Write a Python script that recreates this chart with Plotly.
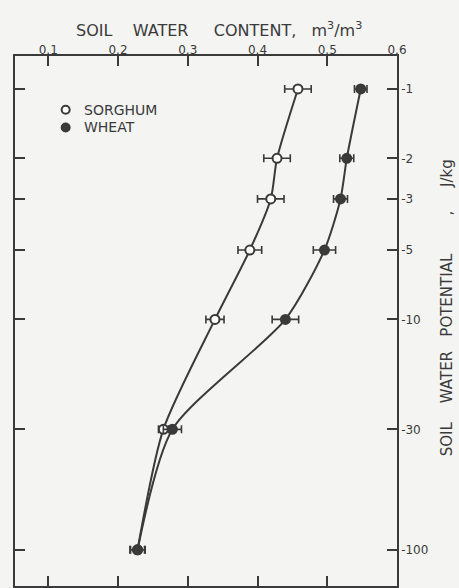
import plotly.graph_objects as go

# ---- data ----
potential = [-1, -2, -3, -5, -10, -30, -100]          # J/kg
sorghum = [0.458, 0.428, 0.419, 0.389, 0.339, 0.265, 0.228]
sorghum_err = [0.019, 0.019, 0.019, 0.017, 0.013, 0.007, 0.010]
wheat = [0.548, 0.528, 0.519, 0.496, 0.440, 0.278, 0.228]
wheat_err = [0.009, 0.010, 0.010, 0.016, 0.019, 0.013, 0.011]
x_ticks = [0.1, 0.2, 0.3, 0.4, 0.5, 0.6]
y_ticks = [-1, -2, -3, -5, -10, -30, -100]
legend_names = ["SORGHUM", "WHEAT"]

INK = "#3a3a3a"
BG = "#f4f4f2"
FONT = "DejaVu Sans"

mag = [-p for p in potential]
y_tick_mag = [-t for t in y_ticks]

fig = go.Figure()

def add_series(xs, errs, filled):
    fill = INK if filled else "white"
    fig.add_trace(go.Scatter(
        x=xs, y=mag, mode="lines+markers", showlegend=False,
        line=dict(color=INK, width=2, shape="spline", smoothing=0.7),
        marker=dict(symbol="circle", size=9, color=fill,
                    line=dict(color=INK, width=2)),
        error_x=dict(type="data", array=errs, visible=True,
                     color=INK, thickness=1.6, width=4),
    ))

add_series(sorghum, sorghum_err, False)
add_series(wheat, wheat_err, True)

fig.update_xaxes(
    side="top", range=[0.0523, 0.6], tickvals=x_ticks,
    ticktext=[f"{t:.1f}" for t in x_ticks],
    ticks="inside", ticklen=10, tickwidth=1.5, tickcolor=INK,
    showline=True, linecolor=INK, linewidth=1.5, mirror="ticks",
    showgrid=False, zeroline=False, ticklabelstandoff=-5,
    tickfont=dict(family=FONT, size=12, color=INK),
)
fig.update_yaxes(
    type="log", side="right", range=[2.157, -0.143],
    tickvals=y_tick_mag, ticktext=[str(t) for t in y_ticks],
    ticks="inside", ticklen=10, tickwidth=1.5, tickcolor=INK,
    showline=True, linecolor=INK, linewidth=1.5, mirror="ticks",
    showgrid=False, zeroline=False,
    tickfont=dict(family=FONT, size=12, color=INK),
)

nb = "\u00a0"
fig.add_annotation(
    text=f"SOIL{nb*4}WATER{nb*5}CONTENT,{nb*3}m<sup>3</sup>/m<sup>3</sup>",
    xref="paper", yref="paper", x=0.534, y=1.05,
    xanchor="center", yanchor="middle", showarrow=False,
    font=dict(family=FONT, size=16, color=INK),
)
fig.add_annotation(
    text=f"SOIL{nb*4}WATER{nb*3}POTENTIAL{nb*8},{nb*5}J/kg",
    xref="paper", yref="paper", x=1.131, y=0.524,
    xanchor="center", yanchor="middle", textangle=-90, showarrow=False,
    font=dict(family=FONT, size=15, color=INK),
)

# legend (symbol + label), placed in paper coordinates
leg_y = [0.8985, 0.8652]
for name, yy, filled in zip(legend_names, leg_y, [False, True]):
    fig.add_shape(type="circle", xref="paper", yref="paper",
                  xsizemode="pixel", ysizemode="pixel",
                  xanchor=0.1326, yanchor=yy, x0=-4, x1=4, y0=-4, y1=4,
                  line=dict(color=INK, width=2),
                  fillcolor=INK if filled else "white")
    fig.add_annotation(text=name, xref="paper", yref="paper",
                       x=0.1745, y=yy, xanchor="left", yanchor="middle",
                       showarrow=False,
                       font=dict(family=FONT, size=14, color=INK))

fig.update_layout(
    width=459, height=588,
    margin=dict(l=15, r=62, t=56, b=0),
    paper_bgcolor=BG, plot_bgcolor=BG,
    showlegend=False,
)

fig.write_html(
    "out.html",
    config={"displayModeBar": False},
    post_script="document.body.style.margin='0';document.body.style.overflow='hidden';",
)
